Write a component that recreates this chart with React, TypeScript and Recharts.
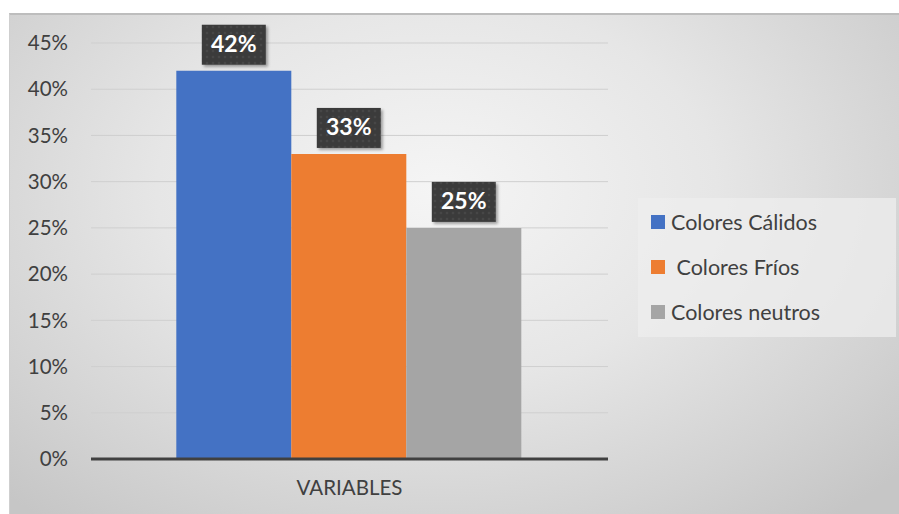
import React from 'react';
import { BarChart, Bar, XAxis, YAxis, CartesianGrid, Legend, LabelList } from 'recharts';

// Share of responses per colour group
const categories = ['VARIABLES'];
const seriesKeys = ['calidos', 'frios', 'neutros'];
const seriesNames = ['Colores Cálidos', ' Colores Fríos', 'Colores neutros'];
const seriesColors = ['#4472C4', '#ED7D31', '#A5A5A5'];
const calidos = [42];
const frios = [33];
const neutros = [25];
const yTicks = [0, 5, 10, 15, 20, 25, 30, 35, 40, 45];

const data = categories.map((category, i) => ({
  category,
  calidos: calidos[i],
  frios: frios[i],
  neutros: neutros[i],
}));

const FONT = 'Lato, "Open Sans", sans-serif';
const TEXT = '#404040';

// Dark callout box holding the percentage above each bar
const ValueLabel = (props: any) => {
  const { x, y, width, value } = props;
  const w = 64;
  const h = 40;
  const cx = x + width / 2;
  const top = y - 6 - h;
  return (
    <g>
      <rect x={cx - w / 2} y={top} width={w} height={h} fill="url(#labelDots)" filter="url(#labelShadow)" />
      <text
        x={cx}
        y={top + h / 2 + 1}
        textAnchor="middle"
        dominantBaseline="middle"
        fill="#ffffff"
        fontFamily={FONT}
        fontWeight={700}
        fontSize={23}
      >
        {`${Math.round(value)}%`}
      </text>
    </g>
  );
};

const LegendBox = () => (
  <div
    style={{
      width: 258,
      height: 139,
      background: 'rgba(238,238,238,0.75)',
      boxSizing: 'border-box',
      paddingTop: 1,
      paddingLeft: 13,
      fontFamily: FONT,
      fontSize: 21.5,
      color: TEXT,
    }}
  >
    {seriesNames.map((name, i) => (
      <div key={name} style={{ display: 'flex', alignItems: 'center', height: 45, whiteSpace: 'pre' }}>
        <span style={{ display: 'inline-block', width: 14, height: 14, background: seriesColors[i], marginRight: 6 }} />
        <span>{name}</span>
      </div>
    ))}
  </div>
);

export default function App() {
  return (
    <div style={{ position: 'absolute', left: 0, top: 0, width: 899, height: 514, background: '#ffffff' }}>
      <div
        style={{
          position: 'absolute',
          left: 9,
          top: 13,
          width: 890,
          height: 501,
          boxSizing: 'border-box',
          borderTop: '2px solid #bdbdbd',
          borderLeft: '1px solid #cfcfcf',
          background:
            'radial-gradient(ellipse 70% 85% at 48% 35%, #f5f5f5 0%, #e6e6e6 45%, #d2d2d2 80%, #c6c6c6 100%)',
        }}
      />
      <div style={{ position: 'absolute', left: 0, top: 0 }}>
        <BarChart
          width={899}
          height={514}
          data={data}
          margin={{ top: 43, right: 291, bottom: 0, left: 0 }}
          barCategoryGap="16.5%"
          barGap={0}
        >
          <defs>
            <pattern id="labelDots" width="6" height="6" patternUnits="userSpaceOnUse">
              <rect width="6" height="6" fill="#3b3b3b" />
              <circle cx="3" cy="3" r="1.2" fill="#474747" />
            </pattern>
            <filter id="labelShadow" x="-20%" y="-20%" width="150%" height="150%">
              <feDropShadow dx="2" dy="2" stdDeviation="1.5" floodColor="#000000" floodOpacity="0.35" />
            </filter>
          </defs>
          <CartesianGrid vertical={false} stroke="#cfcfcf" strokeWidth={1} />
          <XAxis
            dataKey="category"
            height={55}
            tickLine={false}
            tickSize={0}
            tickMargin={21}
            axisLine={{ stroke: '#404040', strokeWidth: 3 }}
            tick={{ fill: TEXT, fontSize: 20.5, fontFamily: FONT }}
          />
          <YAxis
            width={91}
            domain={[0, 45]}
            ticks={yTicks}
            interval={0}
            axisLine={false}
            tickLine={false}
            tickSize={0}
            tickMargin={23}
            tickFormatter={(v: number) => `${v}%`}
            tick={{ fill: TEXT, fontSize: 20.5, fontFamily: FONT }}
          />
          <Legend
            layout="vertical"
            align="center"
            verticalAlign="middle"
            content={<LegendBox />}
            wrapperStyle={{ left: 638, top: 198, width: 258, height: 139 }}
          />
          {seriesKeys.map((key, i) => (
            <Bar key={key} dataKey={key} name={seriesNames[i]} fill={seriesColors[i]} isAnimationActive={false}>
              <LabelList dataKey={key} content={<ValueLabel />} />
            </Bar>
          ))}
        </BarChart>
      </div>
    </div>
  );
}
